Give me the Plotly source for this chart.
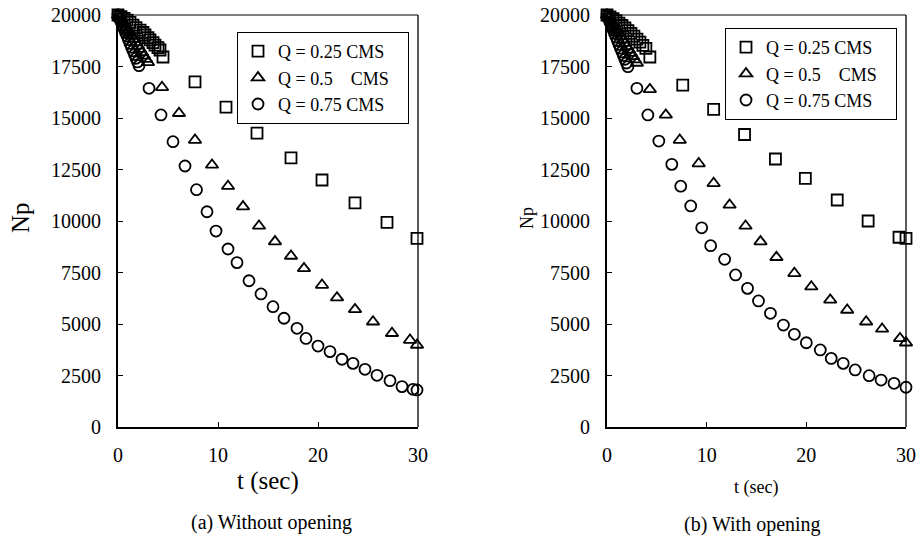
import plotly.graph_objects as go

# ---------------- data: (a) Without opening ----------------
a_t_q025 = [0, 0.3, 0.6, 0.9, 1.2, 1.5, 1.8, 2.2, 2.5, 2.7, 3.0, 3.2, 3.5, 3.7, 4.0, 4.2,
            4.5, 7.7, 10.8, 13.9, 17.3, 20.4, 23.7, 26.9, 29.9]
a_np_q025 = [20000, 19920, 19840, 19750, 19640, 19510, 19390, 19270, 19150, 19030, 18900, 18790,
             18660, 18540, 18420, 18300,
             17960, 16750, 15530, 14270, 13060, 11990, 10880, 9930, 9160]

a_t_q05 = [0, 0.2, 0.4, 0.6, 0.8, 1.0, 1.2, 1.4, 1.6, 1.8, 2.0, 2.2, 2.4, 2.6, 2.8, 3.0,
           4.4, 6.1, 7.7, 9.4, 11.0, 12.5, 14.1, 15.7, 17.3, 18.6, 20.4, 21.9, 23.7, 25.5,
           27.4, 29.2, 29.9]
a_np_q05 = [20000, 19860, 19720, 19570, 19420, 19270, 19120, 18970, 18820, 18660, 18500, 18340,
            18180, 18020, 17860, 17700,
            16490, 15230, 13930, 12720, 11690, 10700, 9760, 9000, 8300, 7700, 6890, 6280, 5710,
            5110, 4550, 4220, 3980]

a_t_q075 = [0, 0.15, 0.3, 0.45, 0.6, 0.75, 0.9, 1.05, 1.2, 1.35, 1.5, 1.65, 1.8, 1.95, 2.1,
            3.1, 4.3, 5.5, 6.7, 7.85, 8.9, 9.8, 11.0, 11.9, 13.1, 14.3, 15.5, 16.6, 17.9, 18.8,
            20.0, 21.2, 22.4, 23.5, 24.7, 25.9, 27.2, 28.4, 29.5, 29.9]
a_np_q075 = [20000, 19830, 19660, 19490, 19320, 19150, 18980, 18800, 18620, 18440, 18260, 18080,
             17900, 17720, 17540,
             16440, 15150, 13850, 12670, 11520, 10450, 9510, 8640, 7980, 7100, 6460, 5840, 5280,
             4790, 4300, 3930, 3660, 3290, 3090, 2800, 2510, 2250, 1960, 1830, 1800]

# ---------------- data: (b) With opening ----------------
b_t_q025 = [0, 0.3, 0.6, 0.9, 1.2, 1.5, 1.8, 2.1, 2.4, 2.7, 3.0, 3.3, 3.6, 3.9,
            4.3, 7.6, 10.7, 13.8, 16.9, 19.9, 23.1, 26.2, 29.3, 30.0]
b_np_q025 = [20000, 19910, 19820, 19720, 19610, 19490, 19370, 19240, 19110, 18970, 18830, 18680,
             18530, 18380,
             17960, 16600, 15420, 14200, 13010, 12070, 11020, 10000, 9210, 9160]

b_t_q05 = [0, 0.2, 0.4, 0.6, 0.8, 1.0, 1.2, 1.4, 1.6, 1.8, 2.0, 2.2, 2.4, 2.6, 2.8, 3.0,
           4.3, 5.9, 7.3, 9.2, 10.7, 12.3, 13.9, 15.4, 17.0, 18.8, 20.5, 22.4, 24.1, 26.0,
           27.6, 29.4, 30.0]
b_np_q05 = [20000, 19860, 19710, 19560, 19410, 19260, 19100, 18950, 18790, 18630, 18470, 18310,
            18150, 17990, 17830, 17670,
            16390, 15150, 13930, 12790, 11830, 10780, 9760, 9000, 8240, 7460, 6810, 6170, 5680,
            5110, 4760, 4300, 4090]

b_t_q075 = [0, 0.15, 0.3, 0.45, 0.6, 0.75, 0.9, 1.05, 1.2, 1.35, 1.5, 1.65, 1.8, 1.95, 2.1,
            3.0, 4.1, 5.2, 6.5, 7.4, 8.4, 9.5, 10.4, 11.8, 12.9, 14.1, 15.2, 16.4, 17.7, 18.8,
            20.0, 21.4, 22.5, 23.7, 24.9, 26.3, 27.5, 28.8, 30.0]
b_np_q075 = [20000, 19830, 19650, 19470, 19290, 19110, 18930, 18750, 18570, 18390, 18210, 18030,
             17850, 17670, 17490,
             16440, 15150, 13880, 12750, 11690, 10730, 9670, 8800, 8140, 7380, 6730, 6120, 5520,
             4950, 4500, 4090, 3740, 3330, 3090, 2770, 2490, 2280, 2120, 1930]

NB = "\u00a0"
series_names = ["Q = 0.25 CMS" + NB * 3, "Q = 0.5" + NB * 4 + "CMS" + NB * 3, "Q = 0.75 CMS" + NB * 3]
series_symbols = ["square-open", "triangle-up-open", "circle-open"]

x_ticks = [0, 10, 20, 30]
y_ticks = [0, 2500, 5000, 7500, 10000, 12500, 15000, 17500, 20000]

FONT = "Liberation Serif"
W, H = 921, 542

fig = go.Figure()

panels = [
    ("x", "y", "legend", [(a_t_q025, a_np_q025), (a_t_q05, a_np_q05), (a_t_q075, a_np_q075)]),
    ("x2", "y2", "legend2", [(b_t_q025, b_np_q025), (b_t_q05, b_np_q05), (b_t_q075, b_np_q075)]),
]
for xa, ya, lg, data in panels:
    for (tt, nn), name, sym in zip(data, series_names, series_symbols):
        fig.add_trace(go.Scatter(
            x=tt, y=nn, mode="markers", name=name, xaxis=xa, yaxis=ya, legend=lg,
            cliponaxis=False,
            marker=dict(symbol=sym, size=11, color="black", line=dict(color="black", width=1.8)),
        ))

def px_x(p):
    return p / W

def px_y(p):
    return 1 - p / H

axis_common = dict(
    showgrid=False, zeroline=False, showline=True, linecolor="black", linewidth=2,
    ticks="inside", ticklen=5, tickwidth=1, tickcolor="black", automargin=False,
    tickfont=dict(family=FONT, size=20, color="black"),
)

legend_common = dict(
    xanchor="left", yanchor="top", bordercolor="black", borderwidth=1, bgcolor="white",
    font=dict(family=FONT, size=18, color="black"), tracegroupgap=0,
)

fig.update_layout(
    template="none",
    width=W, height=H, paper_bgcolor="white", plot_bgcolor="white",
    margin=dict(l=0, r=0, t=0, b=0, pad=0, autoexpand=False),
    font=dict(family=FONT, color="black"),
    xaxis=dict(domain=[px_x(118), px_x(418)], range=[0, 30], tickvals=x_ticks, anchor="y",
               ticklabelstandoff=9, **axis_common),
    yaxis=dict(domain=[px_y(427), px_y(15)], range=[0, 20000], tickvals=y_ticks, tickformat="d",
               anchor="x", ticklabelstandoff=11, **axis_common),
    xaxis2=dict(domain=[px_x(607), px_x(906)], range=[0, 30], tickvals=x_ticks, anchor="y2",
                ticklabelstandoff=9, **axis_common),
    yaxis2=dict(domain=[px_y(427), px_y(15)], range=[0, 20000], tickvals=y_ticks, tickformat="d",
                anchor="x2", ticklabelstandoff=11, **axis_common),
    legend=dict(x=px_x(237), y=px_y(32), **legend_common),
    legend2=dict(x=px_x(725), y=px_y(28), **legend_common),
    showlegend=True,
)

# thin top/right frame lines
for xr, yr in [("x domain", "y domain"), ("x2 domain", "y2 domain")]:
    fig.add_shape(type="line", xref=xr, yref=yr, x0=0, x1=1, y0=1, y1=1,
                  line=dict(color="black", width=1))
    fig.add_shape(type="line", xref=xr, yref=yr, x0=1, x1=1, y0=0, y1=1,
                  line=dict(color="black", width=1.3))

def ann(text, x, y, size, angle=0):
    fig.add_annotation(text=text, x=px_x(x), y=px_y(y), xref="paper", yref="paper",
                       showarrow=False, textangle=angle, xanchor="center", yanchor="middle",
                       font=dict(family=FONT, size=size, color="black"))

ann("Np", 20, 218, 25, -90)
ann("t (sec)", 268, 481, 25)
ann("Np", 527, 218, 18, -90)
ann("t (sec)", 756, 487, 18)
ann("(a) Without opening", 271, 522, 20)
ann("(b) With opening", 752, 524, 20)

# remove the browser's default 8px body margin so the figure fills the window exactly
fig.write_html("out.html", config={"displayModeBar": False},
               post_script="document.body.style.margin='0px';")
